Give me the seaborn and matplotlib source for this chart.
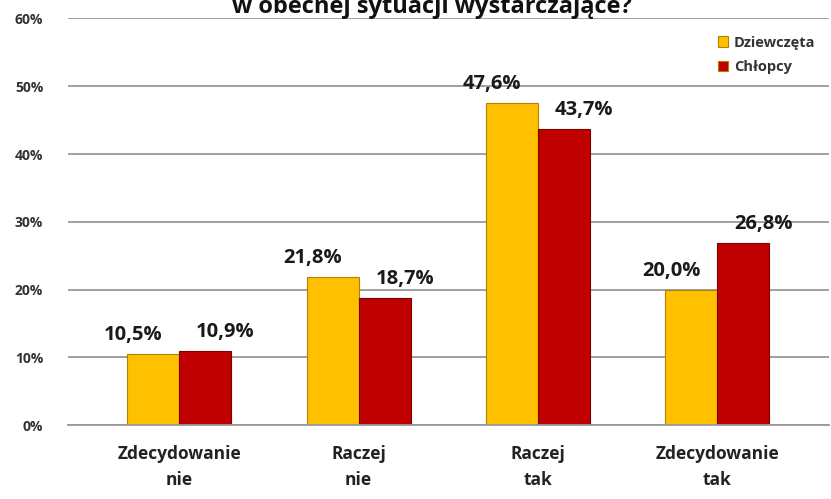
import matplotlib
matplotlib.use("Agg")
import matplotlib.pyplot as plt
import seaborn as sns
import pandas as pd

categories = ["Zdecydowanie\nnie", "Raczej\nnie", "Raczej\ntak", "Zdecydowanie\ntak"]
dziewczeta = [10.5, 21.8, 47.6, 20.0]
chlopcy = [10.9, 18.7, 43.7, 26.8]
series_names = ["Dziewczęta", "Chłopcy"]
yticks = [0, 10, 20, 30, 40, 50, 60]

sns.set_theme(style="white")
plt.rcParams['font.family'] = ['Open Sans', 'DejaVu Sans']

df = pd.DataFrame({
    "kat": categories * 2,
    "val": dziewczeta + chlopcy,
    "plec": [series_names[0]] * 4 + [series_names[1]] * 4,
})

fig = plt.figure(figsize=(8.31, 4.99), dpi=100)
ax = fig.add_axes([0.082, 0.148, 0.915, 0.815])
sns.barplot(data=df, x="kat", y="val", hue="plec", hue_order=series_names,
            palette=["#FFC000", "#C00000"], width=0.58, ax=ax,
            edgecolor="#B08000", linewidth=0.8, saturation=1)
for p in ax.patches[4:8]:
    p.set_edgecolor("#800000")

shifts = [-20, 20]
for cont, dx in zip(ax.containers, shifts):
    for rect, v in zip(cont.patches, cont.datavalues):
        ax.annotate(f"{v:.1f}%".replace(".", ","),
                    xy=(rect.get_x() + rect.get_width() / 2, rect.get_height()),
                    xytext=(dx, 9), textcoords="offset pixels",
                    ha="center", va="bottom", fontsize=14.5, fontweight="bold",
                    color="#1a1a1a")

ax.set_ylim(0, 60)
ax.set_yticks(yticks)
ax.set_yticklabels([f"{t}%" for t in yticks], fontsize=10, fontweight="bold", color="#333333")
ax.yaxis.grid(True, color="#999999", linewidth=1.3)
ax.set_axisbelow(True)
for s in ["left", "right", "top"]:
    ax.spines[s].set_visible(False)
ax.spines["bottom"].set_color("#999999")
ax.spines["bottom"].set_linewidth(1.3)
ax.tick_params(axis="y", pad=18, length=0)
ax.tick_params(axis="x", length=0, pad=14)
for lbl in ax.get_xticklabels():
    lbl.set_fontsize(12.5)
    lbl.set_fontweight("bold")
    lbl.set_color("#222222")
    lbl.set_linespacing(1.6)
ax.set_xlabel("")
ax.set_ylabel("")
ax.set_xlim(-0.62, 3.62)

leg = ax.legend(loc="upper right", bbox_to_anchor=(1.0, 0.99), frameon=False,
                handlelength=0.7, handleheight=0.7, handletextpad=0.4,
                labelspacing=0.7, prop={"weight": "bold", "size": 10.5})
for t in leg.get_texts():
    t.set_color("#333333")

fig.text(0.52, 0.985, "w obecnej sytuacji wystarczające?", ha="center", va="center",
         fontsize=17, fontweight="bold", color="#111111")

fig.savefig("out.png", dpi=100)
